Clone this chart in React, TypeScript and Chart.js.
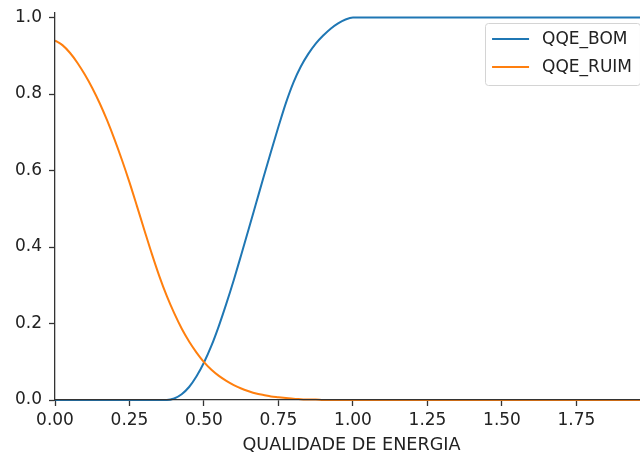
import { useEffect, useRef } from "react";
import { Chart, registerables } from "chart.js";

Chart.register(...registerables);

// Universe of discourse for "qualidade de energia"
const qualidade = [
  0, 0.025, 0.05, 0.075, 0.1, 0.125, 0.15, 0.175, 0.2, 0.225,
  0.25, 0.275, 0.3, 0.325, 0.35, 0.375, 0.4, 0.425, 0.45, 0.475,
  0.5, 0.525, 0.55, 0.575, 0.6, 0.625, 0.65, 0.675, 0.7, 0.725,
  0.75, 0.775, 0.8, 0.825, 0.85, 0.875, 0.9, 0.925, 0.95, 0.975,
  1.0, 1.25, 1.5, 1.75, 1.99,
];

// Membership degree of the "bom" (good) set
const qqeBom = [
  0, 0, 0, 0, 0, 0, 0, 0, 0, 0,
  0, 0, 0, 0, 0, 0, 0.004, 0.015, 0.034, 0.062,
  0.098, 0.142, 0.194, 0.252, 0.314, 0.38, 0.447, 0.515, 0.583, 0.65,
  0.715, 0.777, 0.83, 0.872, 0.905, 0.932, 0.953, 0.971, 0.985, 0.995,
  1.0, 1.0, 1.0, 1.0, 1.0,
];

// Membership degree of the "ruim" (bad) set
const qqeRuim = [
  0.94, 0.928, 0.908, 0.882, 0.851, 0.816, 0.776, 0.731, 0.681, 0.627,
  0.569, 0.507, 0.444, 0.382, 0.324, 0.272, 0.227, 0.187, 0.153, 0.124,
  0.099, 0.079, 0.063, 0.05, 0.039, 0.03, 0.023, 0.017, 0.013, 0.009,
  0.007, 0.005, 0.003, 0.002, 0.001, 0.001, 0, 0, 0, 0,
  0, 0, 0, 0, 0,
];

const seriesNames = ["QQE_BOM", "QQE_RUIM"];
const seriesColors = ["#1f77b4", "#ff7f0e"];
const axisTitle = "QUALIDADE DE ENERGIA";

const FONT = "'DejaVu Sans', sans-serif";
const TEXT = "#222222";
const AXIS = "#333333";

// Boxed legend in the upper-right corner of the plot area
const legendBox = {
  id: "legendBox",
  afterDraw(chart: any) {
    const { ctx, chartArea } = chart;
    const items = chart.data.datasets;
    ctx.save();
    ctx.font = `17px ${FONT}`;
    const textW = Math.max(...items.map((d: any) => ctx.measureText(d.label).width));
    const w = 57 + textW + 8;
    const h = 62;
    const right = chartArea.right - 8;
    const top = chartArea.top + 10;
    const left = right - w;
    ctx.beginPath();
    ctx.roundRect(Math.round(left) + 0.5, Math.round(top) + 0.5, w, h, 3);
    ctx.fillStyle = "rgba(255,255,255,0.8)";
    ctx.fill();
    ctx.strokeStyle = "#d4d4d4";
    ctx.lineWidth = 1;
    ctx.stroke();
    items.forEach((d: any, i: number) => {
      const y = top + 16 + i * 28;
      ctx.beginPath();
      ctx.moveTo(left + 7, y);
      ctx.lineTo(left + 44, y);
      ctx.strokeStyle = d.borderColor;
      ctx.lineWidth = 2;
      ctx.stroke();
      ctx.fillStyle = TEXT;
      ctx.textBaseline = "middle";
      ctx.textAlign = "left";
      ctx.fillText(d.label, left + 57, y + 1);
    });
    ctx.restore();
  },
};

export default function App() {
  const canvasRef = useRef<HTMLCanvasElement>(null);

  useEffect(() => {
    const canvas = canvasRef.current;
    if (!canvas) return;

    const series = [qqeBom, qqeRuim];
    const chart = new Chart(canvas, {
      type: "line",
      data: {
        datasets: series.map((values, i) => ({
          label: seriesNames[i],
          data: qualidade.map((x, j) => ({ x, y: values[j] })),
          borderColor: seriesColors[i],
          backgroundColor: seriesColors[i],
          borderWidth: 2,
          pointRadius: 0,
          cubicInterpolationMode: "monotone" as const,
          fill: false,
          clip: 2,
          order: i === 0 ? 1 : 0,
        })),
      },
      options: {
        animation: false,
        responsive: false,
        devicePixelRatio: 1,
        layout: { padding: { top: 13, right: 2, left: 0, bottom: 0 } },
        plugins: {
          legend: { display: false },
          tooltip: { enabled: false },
        },
        scales: {
          x: {
            type: "linear",
            min: 0,
            max: 1.99,
            afterFit: (s: any) => {
              s.height = 56;
              s.paddingLeft = 0;
              s.paddingRight = 0;
            },
            ticks: {
              stepSize: 0.25,
              includeBounds: false,
              autoSkip: false,
              maxRotation: 0,
              padding: 4,
              color: TEXT,
              font: { family: FONT, size: 17 },
              callback: (v: any) => Number(v).toFixed(2),
            },
            grid: {
              display: true,
              drawOnChartArea: false,
              drawTicks: true,
              tickLength: 6,
              tickWidth: 1.3,
              tickColor: AXIS,
            },
            border: { display: true, color: AXIS, width: 1.3, z: 1 },
            title: {
              display: true,
              text: axisTitle,
              color: TEXT,
              font: { family: FONT, size: 17.6 },
              padding: { top: 0, bottom: 0 },
            },
          },
          y: {
            type: "linear",
            min: 0,
            max: 1.012,
            afterFit: (s: any) => {
              s.width = 55;
              s.paddingTop = 0;
              s.paddingBottom = 0;
            },
            ticks: {
              stepSize: 0.2,
              includeBounds: false,
              padding: 7,
              color: TEXT,
              font: { family: FONT, size: 17 },
              callback: (v: any) => Number(v).toFixed(1),
            },
            grid: {
              display: true,
              drawOnChartArea: false,
              drawTicks: true,
              tickLength: 6,
              tickWidth: 1.3,
              tickColor: AXIS,
            },
            border: { display: true, color: AXIS, width: 1.3, z: 1 },
          },
        },
      },
      plugins: [legendBox],
    });

    return () => chart.destroy();
  }, []);

  return (
    <div
      style={{
        position: "fixed",
        left: 0,
        top: 0,
        width: 640,
        height: 456,
        overflow: "hidden",
        background: "#ffffff",
      }}
    >
      <canvas ref={canvasRef} width={650} height={456} style={{ display: "block" }} />
    </div>
  );
}
